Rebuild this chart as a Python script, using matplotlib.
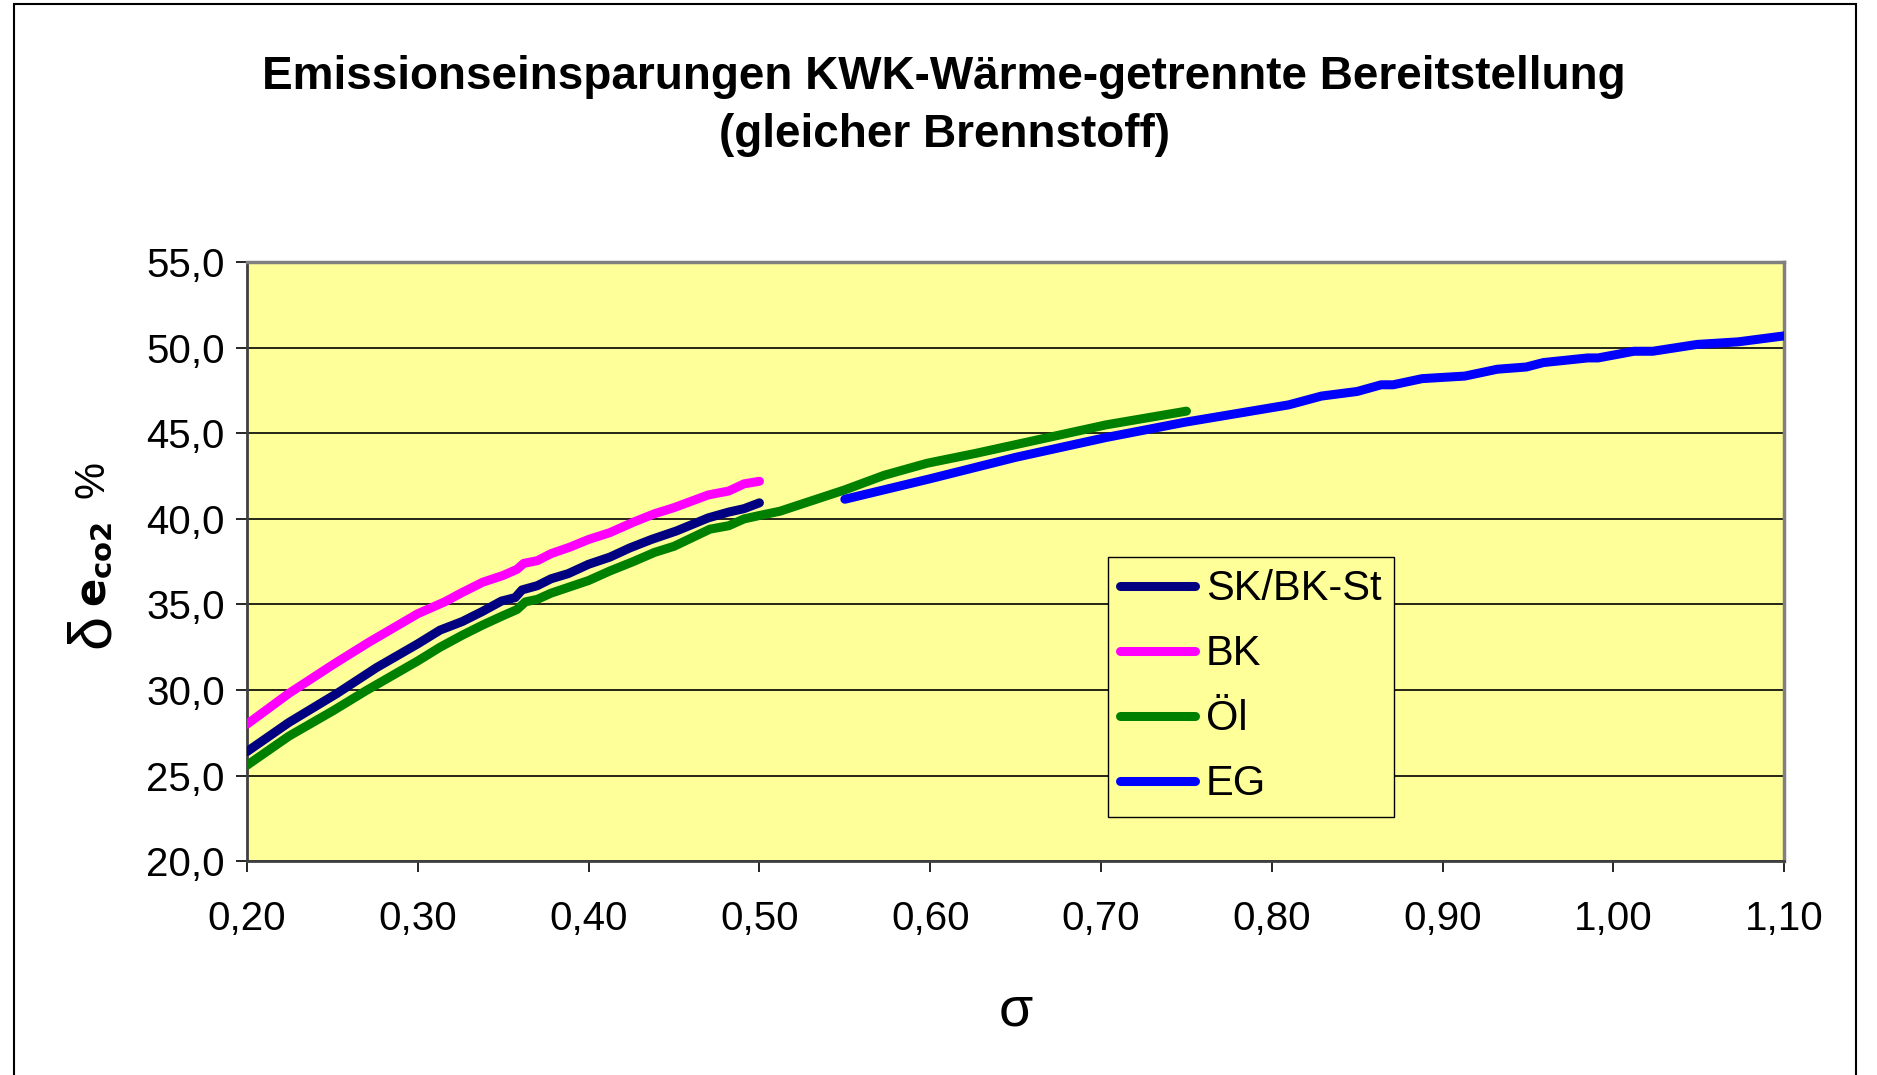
import numpy as np
import matplotlib.pyplot as plt
from matplotlib.patches import Rectangle
from matplotlib.ticker import FuncFormatter

plt.rcParams['font.family'] = ['Liberation Sans', 'DejaVu Sans']

# data (sigma, delta e_CO2 in %)
sk_x = [0.200, 0.2245, 0.2527, 0.2757, 0.300, 0.313, 0.326, 0.338, 0.349, 0.357, 0.361, 0.370,
        0.378, 0.388, 0.400, 0.4125, 0.424, 0.4368, 0.4515, 0.470, 0.482, 0.491, 0.500]
sk_y = [26.4, 28.1, 29.8, 31.3, 32.7, 33.5, 34.0, 34.6, 35.2, 35.4, 35.85, 36.1,
        36.5, 36.8, 37.35, 37.77, 38.3, 38.8, 39.3, 40.06, 40.4, 40.6, 40.94]

bk_x = [0.200, 0.2245, 0.2506, 0.2715, 0.300, 0.3157, 0.326, 0.338, 0.350, 0.358, 0.362, 0.370,
        0.378, 0.389, 0.400, 0.4125, 0.426, 0.4385, 0.450, 0.470, 0.482, 0.491, 0.500]
bk_y = [28.0, 29.8, 31.5, 32.8, 34.46, 35.15, 35.7, 36.3, 36.7, 37.05, 37.4, 37.56,
        37.97, 38.35, 38.8, 39.2, 39.8, 40.3, 40.66, 41.4, 41.63, 42.05, 42.2]

oel_x = [0.200, 0.2245, 0.2506, 0.2695, 0.300, 0.313, 0.326, 0.338, 0.350, 0.358, 0.363, 0.370,
         0.378, 0.389, 0.400, 0.4125, 0.426, 0.4385, 0.450, 0.471, 0.482, 0.491, 0.500,
         0.512, 0.550, 0.573, 0.598, 0.627, 0.665, 0.703, 0.750]
oel_y = [25.6, 27.3, 28.8, 29.95, 31.7, 32.5, 33.2, 33.8, 34.35, 34.7, 35.15, 35.3,
         35.66, 36.03, 36.4, 36.96, 37.5, 38.04, 38.4, 39.4, 39.6, 40.0, 40.2,
         40.45, 41.7, 42.55, 43.25, 43.84, 44.67, 45.5, 46.3]

eg_x = [0.550, 0.600, 0.650, 0.703, 0.749, 0.810, 0.829, 0.850, 0.864, 0.871, 0.888, 0.913,
        0.932, 0.949, 0.959, 0.985, 0.991, 1.012, 1.023, 1.049, 1.073, 1.100]
eg_y = [41.15, 42.35, 43.6, 44.76, 45.65, 46.67, 47.18, 47.45, 47.84, 47.84, 48.2, 48.35,
        48.75, 48.88, 49.14, 49.41, 49.41, 49.8, 49.8, 50.2, 50.35, 50.7]

series = [("SK/BK-St", sk_x, sk_y, "#000080"),
          ("BK", bk_x, bk_y, "#FF00FF"),
          ("Öl", oel_x, oel_y, "#008000"),
          ("EG", eg_x, eg_y, "#0000FF")]

fig = plt.figure(figsize=(18.77, 10.75), dpi=100)
ax = fig.add_axes([0.1316, 0.199, 0.819, 0.557])
ax.set_facecolor("#FFFF99")

for name, xs, ys, col in series:
    ax.plot(xs, ys, color=col, lw=6.5, solid_capstyle="round", solid_joinstyle="round",
            label=name, zorder=3)

ax.set_xlim(0.2, 1.1)
ax.set_ylim(20, 55)
ax.set_xticks(np.arange(0.2, 1.101, 0.1))
ax.set_yticks(np.arange(20, 55.1, 5))
ax.xaxis.set_major_formatter(FuncFormatter(lambda v, p: f"{v:.2f}".replace(".", ",")))
ax.yaxis.set_major_formatter(FuncFormatter(lambda v, p: f"{v:.1f}".replace(".", ",")))
ax.tick_params(axis="both", labelsize=29, direction="out", length=8, width=1.2)
ax.tick_params(axis="x", pad=20)
ax.tick_params(axis="y", pad=8)
ax.grid(axis="y", color="black", lw=1.2)
ax.set_axisbelow(True)

for side in ["top", "right"]:
    ax.spines[side].set_color("#808080")
    ax.spines[side].set_linewidth(2.5)
for side in ["left", "bottom"]:
    ax.spines[side].set_color("#404040")
    ax.spines[side].set_linewidth(2)

ax.set_xlabel("σ", fontsize=40, labelpad=34)

# y label in three parts: big delta, bold e_co2, percent sign
ax.text(-0.1, 0.384, "δ", rotation=90, fontsize=44, ha="center", va="center",
        transform=ax.transAxes)
ax.text(-0.0985, 0.495, r"$\mathbf{e}_{\mathbf{co2}}$", rotation=90, fontsize=30,
        ha="center", va="center", transform=ax.transAxes)
ax.text(-0.1005, 0.637, "%", rotation=90, fontsize=30, ha="center", va="center",
        transform=ax.transAxes)

fig.text(0.503, 0.928, "Emissionseinsparungen KWK-Wärme-getrennte Bereitstellung",
         ha="center", va="center", fontsize=33, fontweight="bold")
fig.text(0.503, 0.874, "(gleicher Brennstoff)",
         ha="center", va="center", fontsize=33, fontweight="bold")

leg = ax.legend(loc="upper left", bbox_to_anchor=(0.56, 0.508), fontsize=30,
                frameon=True, fancybox=False, edgecolor="black", facecolor="#FFFF99",
                framealpha=1, handlelength=1.8, labelspacing=0.6, borderpad=0.3,
                handletextpad=0.25, borderaxespad=0)
leg.get_frame().set_linewidth(1.0)

# outer chart border
fig.patches.append(Rectangle((14 / 1877, -0.05), (1856 - 14) / 1877, 1.05 - 4 / 1075,
                             transform=fig.transFigure, fill=False, edgecolor="black", lw=1.5))

fig.savefig("out.png", dpi=100)
